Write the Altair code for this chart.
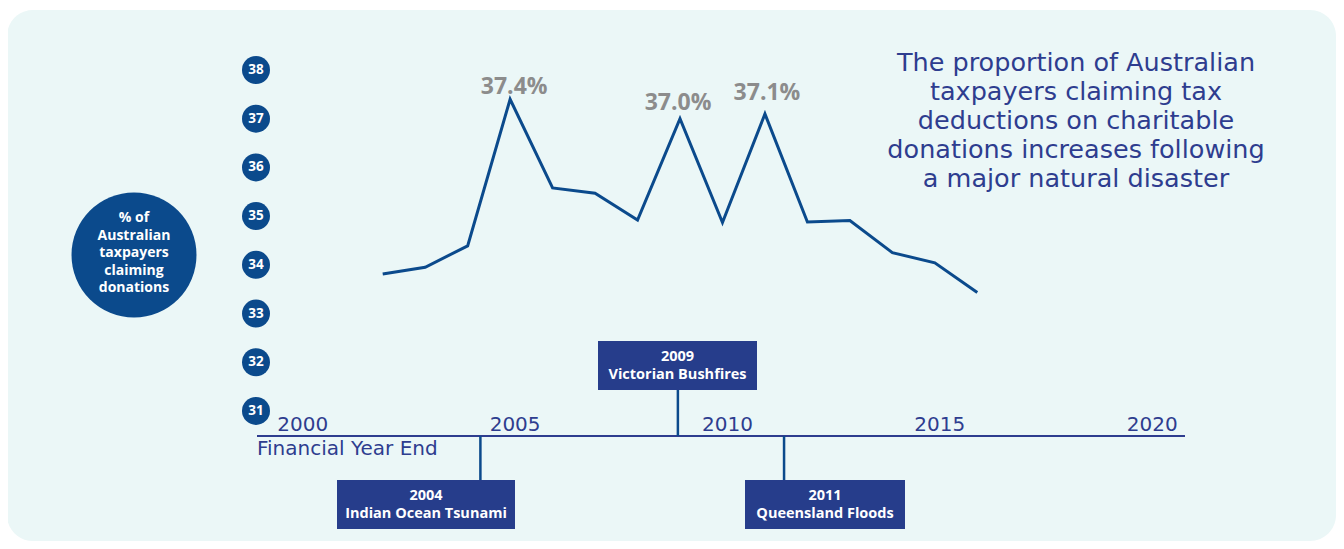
import altair as alt
import pandas as pd

# ---------------- data ----------------
years = list(range(2002, 2017))
share = [33.81, 33.95, 34.39, 37.4, 35.58, 35.47, 34.92, 37.0,
         34.87, 37.1, 34.88, 34.91, 34.25, 34.04, 33.43]

peak_years = [2005, 2009, 2011]
peak_values = [37.4, 37.0, 37.1]
peak_labels = ["37.4%", "37.0%", "37.1%"]

y_ticks = [31, 32, 33, 34, 35, 36, 37, 38]
x_ticks = [2000, 2005, 2010, 2015, 2020]

event_years = [2004.3, 2008.95, 2011.45]
event_labels = ["2004\nIndian Ocean Tsunami",
                "2009\nVictorian Bushfires",
                "2011\nQueensland Floods"]

title_text = ("The proportion of Australian\ntaxpayers claiming tax\n"
              "deductions on charitable\ndonations increases following\n"
              "a major natural disaster")
bubble_text = "% of\nAustralian\ntaxpayers\nclaiming\ndonations"

# ---------------- style ----------------
W, H = 1328, 533
BOLD = "Open Sans"
LIGHT = "DejaVu Sans"
NAVY = "#0B4A8C"
INDIGO = "#263D8B"
TEXTBLUE = "#2E3D8F"
GREY = "#8C8C8C"
BG = "#EBF7F7"

xs = alt.Scale(domain=[1993.177, 2024.446], nice=False, zero=False)
ys = alt.Scale(domain=[28.330, 39.273], nice=False, zero=False)

line_df = pd.DataFrame({"year": years, "share": share})
peak_df = pd.DataFrame({"year": peak_years, "share": peak_values, "label": peak_labels})
ytick_df = pd.DataFrame({"v": y_ticks, "t": [str(v) for v in y_ticks]})
xtick_df = pd.DataFrame({"year": x_ticks, "t": [str(v) for v in x_ticks]})
event_df = pd.DataFrame({"year": event_years, "label": event_labels})
one = pd.DataFrame({"a": [0]})

X = lambda f: alt.X(f, type="quantitative", scale=xs, axis=None)
Y = lambda f: alt.Y(f, type="quantitative", scale=ys, axis=None)

background = alt.Chart(one).mark_rect(fill=BG, cornerRadius=26).encode(
    x=alt.value(-1), x2=alt.value(W), y=alt.value(2), y2=alt.value(H))

# big bubble
bubble = alt.Chart(one).mark_circle(color=NAVY, opacity=1, size=15625).encode(
    x=alt.value(126), y=alt.value(247))
bubble_t = alt.Chart(one).mark_text(
    text=bubble_text, lineBreak="\n", lineHeight=17.5, font=BOLD, fontSize=14,
    fontWeight="bold", color="white", align="center", baseline="middle").encode(
    x=alt.value(126), y=alt.value(210))

# y "axis" circles
ycirc = alt.Chart(ytick_df).mark_circle(color=NAVY, opacity=1, size=784).encode(
    x=alt.value(248), y=Y("v"))
ytext = alt.Chart(ytick_df).mark_text(
    font=BOLD, fontSize=13.5, fontWeight="bold", color="white",
    align="center", baseline="middle").encode(
    x=alt.value(248), y=Y("v"), text="t:N")

# main line
line = alt.Chart(line_df).mark_line(color=NAVY, strokeWidth=3,
                                    strokeJoin="miter").encode(
    x=X("year"), y=Y("share"))

# peak labels (individual offsets)
offsets = [(4, -12), (-2, -16), (2, -21)]
peak_layers = []
for i, (dx, dy) in enumerate(offsets):
    peak_layers.append(
        alt.Chart(peak_df.iloc[[i]]).mark_text(
            font=BOLD, fontSize=23, fontWeight="bold", color=GREY,
            align="center", baseline="middle", dx=dx, dy=dy).encode(
            x=X("year"), y=Y("share"), text="label:N"))

# x axis
axis_line = alt.Chart(one).mark_rule(color=TEXTBLUE, strokeWidth=2).encode(
    x=alt.value(249), x2=alt.value(1177), y=alt.value(428))
xtext = alt.Chart(xtick_df).mark_text(
    font=LIGHT, fontSize=20, color=TEXTBLUE, align="center",
    baseline="middle", dx=5).encode(
    x=X("year"), y=alt.value(417), text="t:N")
xtitle = alt.Chart(one).mark_text(
    text="Financial Year End", font=LIGHT, fontSize=20,
    color=TEXTBLUE, align="left", baseline="middle").encode(
    x=alt.value(249), y=alt.value(441))

# events
conn_down = alt.Chart(event_df.iloc[[0, 2]]).mark_rule(color=NAVY, strokeWidth=2.5).encode(
    x=X("year"), y=alt.value(428), y2=alt.value(472))
conn_up = alt.Chart(event_df.iloc[[1]]).mark_rule(color=NAVY, strokeWidth=2.5).encode(
    x=X("year"), y=alt.value(382), y2=alt.value(428))

boxes = [((329, 507), (472, 521)), ((590, 749), (333, 382)), ((737, 897), (472, 521))]
box_layers = []
for i, ((x0, x1), (y0, y1)) in enumerate(boxes):
    box_layers.append(alt.Chart(one).mark_rect(fill=INDIGO).encode(
        x=alt.value(x0), x2=alt.value(x1), y=alt.value(y0), y2=alt.value(y1)))
    box_layers.append(alt.Chart(event_df.iloc[[i]]).mark_text(
        lineBreak="\n", lineHeight=18, font=BOLD, fontSize=14.5, fontWeight="bold",
        color="white", align="center", baseline="middle").encode(
        x=alt.value((x0 + x1) / 2), y=alt.value(y0 + 16), text="label:N"))

# title text
title = alt.Chart(one).mark_text(
    text=title_text, lineBreak="\n", lineHeight=29, font=LIGHT, fontSize=25.5,
    color=TEXTBLUE, align="center", baseline="middle").encode(
    x=alt.value(1068), y=alt.value(55))

chart = alt.layer(
    background, bubble, bubble_t, ycirc, ytext, axis_line, conn_down, conn_up,
    *box_layers, line, *peak_layers, xtext, xtitle, title
).properties(
    width=W, height=H, autosize=alt.AutoSizeParams(type="none"),
    padding=0, background="white"
).configure_view(stroke=None)

chart.save("out.html", embed_options={"renderer": "svg", "actions": False})
